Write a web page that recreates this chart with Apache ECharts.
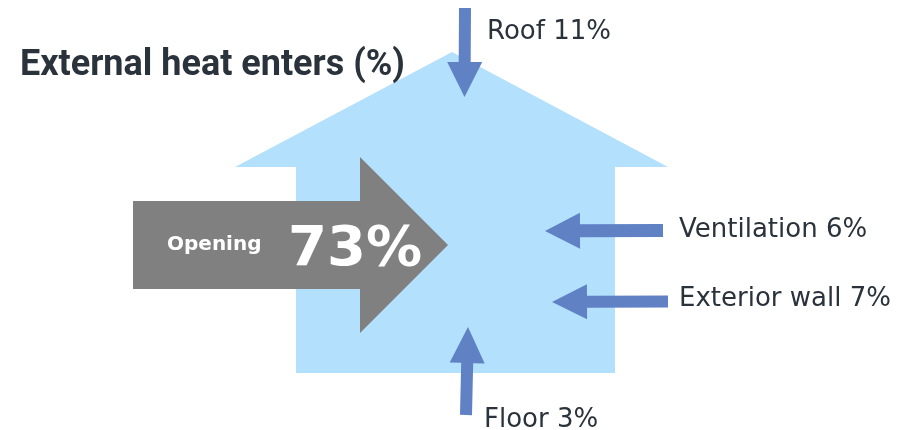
<!DOCTYPE html>
<html>
<head>
<meta charset="utf-8">
<script src="https://cdn.jsdelivr.net/npm/echarts@6/dist/echarts.min.js"></script>
<style>
  html, body { margin: 0; padding: 0; background: #ffffff; }
  #chart { width: 905px; height: 430px; }
</style>
</head>
<body>
<div id="chart"></div>
<script>
// Sources of external heat entering a house, in percent
const categories = ['Opening', 'Roof', 'Ventilation', 'Exterior wall', 'Floor'];
const shares = [73, 11, 6, 7, 3];
const titleText = 'External heat enters (%)';

// Drawing layout, in page pixels (x to the right, y downwards)
const arrowLayout = {
  'Opening':       { tail: [133, 245],   tip: [448, 245],   shaft: 88, head: 176, headLen: 88 },
  'Roof':          { tail: [465, 8],     tip: [464.5, 97],  shaft: 12, head: 35,  headLen: 35 },
  'Ventilation':   { tail: [663, 230.5], tip: [545, 231],   shaft: 13, head: 36,  headLen: 35 },
  'Exterior wall': { tail: [668, 301.5], tip: [552, 302],   shaft: 12, head: 35,  headLen: 35 },
  'Floor':         { tail: [466, 415],   tip: [468, 327],   shaft: 12, head: 35,  headLen: 36 }
};
const labelLayout = {
  'Roof':          { x: 487, y: 32 },
  'Ventilation':   { x: 679, y: 230 },
  'Exterior wall': { x: 679, y: 299 },
  'Floor':         { x: 484, y: 420 }
};
const houseOutline = [[235, 167], [452, 52], [668, 167], [615, 167], [615, 373], [296, 373], [296, 167]];

const COLORS = {
  house: '#b3e0fc',
  opening: '#808080',
  arrow: '#6181c5',
  text: '#2a323b'
};
const LABEL_FONT = '"DejaVu Sans", Verdana, sans-serif';

function arrowPoints(a) {
  const dx = a.tip[0] - a.tail[0], dy = a.tip[1] - a.tail[1];
  const len = Math.hypot(dx, dy);
  const ux = dx / len, uy = dy / len;
  const nx = -uy, ny = ux;
  const bx = a.tip[0] - ux * a.headLen, by = a.tip[1] - uy * a.headLen;
  const s = a.shaft / 2, h = a.head / 2;
  return [
    [a.tail[0] + nx * s, a.tail[1] + ny * s],
    [bx + nx * s, by + ny * s],
    [bx + nx * h, by + ny * h],
    [a.tip[0], a.tip[1]],
    [bx - nx * h, by - ny * h],
    [bx - nx * s, by - ny * s],
    [a.tail[0] - nx * s, a.tail[1] - ny * s]
  ];
}

const chart = echarts.init(document.getElementById('chart'), null, { renderer: 'canvas' });

chart.setOption({
  animation: false,
  backgroundColor: '#ffffff',
  title: {
    text: titleText,
    left: 15,
    top: 43,
    textStyle: {
      fontFamily: 'Roboto, sans-serif',
      fontWeight: 'bold',
      fontSize: 36,
      color: COLORS.text
    }
  },
  grid: { left: 0, right: 0, top: 0, bottom: 0 },
  xAxis: { type: 'value', min: 0, max: 905, show: false },
  yAxis: { type: 'value', min: 0, max: 430, inverse: true, show: false },
  series: [
    {
      // house silhouette
      type: 'custom',
      silent: true,
      z: 1,
      data: [0],
      renderItem: function (params, api) {
        return {
          type: 'polygon',
          shape: { points: houseOutline.map(p => api.coord(p)) },
          style: { fill: COLORS.house }
        };
      }
    },
    {
      // heat arrows and their labels
      type: 'custom',
      silent: true,
      z: 2,
      data: categories.map((c, i) => [i, shares[i]]),
      renderItem: function (params, api) {
        const idx = api.value(0);
        const name = categories[idx];
        const value = api.value(1);
        const a = arrowLayout[name];
        const pts = arrowPoints(a).map(p => api.coord(p));
        const isOpening = name === 'Opening';
        const children = [{
          type: 'polygon',
          shape: { points: pts },
          style: { fill: isOpening ? COLORS.opening : COLORS.arrow }
        }];
        if (isOpening) {
          const p1 = api.coord([167, 245]);
          const p2 = api.coord([288, 250]);
          children.push({
            type: 'text',
            x: p1[0], y: p1[1],
            style: {
              text: name,
              fill: '#ffffff',
              font: 'bold 20px ' + LABEL_FONT,
              textAlign: 'left',
              textVerticalAlign: 'middle'
            }
          });
          children.push({
            type: 'text',
            x: p2[0], y: p2[1],
            style: {
              text: value + '%',
              fill: '#ffffff',
              font: 'bold 56px ' + LABEL_FONT,
              textAlign: 'left',
              textVerticalAlign: 'middle'
            }
          });
        } else {
          const l = labelLayout[name];
          const p = api.coord([l.x, l.y]);
          children.push({
            type: 'text',
            x: p[0], y: p[1],
            style: {
              text: name + ' ' + value + '%',
              fill: COLORS.text,
              font: '26px ' + LABEL_FONT,
              textAlign: 'left',
              textVerticalAlign: 'middle'
            }
          });
        }
        return { type: 'group', children: children };
      }
    }
  ]
});
</script>
</body>
</html>
